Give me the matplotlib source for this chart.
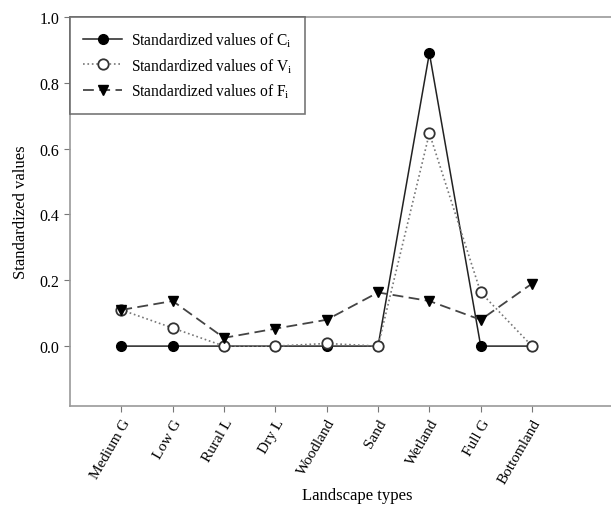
import matplotlib
matplotlib.use('Agg')
import matplotlib.pyplot as plt
import numpy as np

landscapes = ['Medium G', 'Low G', 'Rural L', 'Dry L', 'Woodland',
              'Sand', 'Wetland', 'Full G', 'Bottomland']
c_vals = [0.0, 0.0, 0.0, 0.0, 0.0, 0.0, 0.89, 0.0, 0.0]
v_vals = [0.11, 0.055, 0.0, 0.0, 0.008, 0.0, 0.647, 0.163, 0.0]
f_vals = [0.11, 0.137, 0.025, 0.053, 0.08, 0.163, 0.137, 0.08, 0.19]
y_ticks = [0.0, 0.2, 0.4, 0.6, 0.8, 1.0]

plt.rcParams['font.family'] = ['Liberation Serif']
plt.rcParams['mathtext.fontset'] = 'custom'
plt.rcParams['mathtext.rm'] = 'Liberation Serif'

fig = plt.figure(figsize=(6.11, 5.10), dpi=100)
ax = fig.add_axes([70 / 611, 103 / 510, 575 / 611, 389 / 510])

x = np.arange(len(landscapes))
ax.plot(x, c_vals, '-', color='#222222', lw=1.1, marker='o', ms=7,
        mfc='black', mec='black', label=r'Standardized values of C$_\mathrm{i}$', zorder=3)
ax.plot(x, v_vals, ':', color='#777777', lw=1.2, marker='o', ms=7.5,
        mfc='white', mec='#333333', mew=1.3, label=r'Standardized values of V$_\mathrm{i}$', zorder=4)
ax.plot(x, f_vals, '--', color='#444444', lw=1.3, dashes=(6, 3), marker='v', ms=7.5,
        mfc='black', mec='black', label=r'Standardized values of F$_\mathrm{i}$', zorder=5)

ax.set_xlim(-1, 10.2)
ax.set_ylim(-0.182, 1.0)
ax.set_yticks(y_ticks)
ax.set_yticklabels(['%.1f' % t for t in y_ticks])
ax.set_xticks(x)
ax.set_xticklabels(landscapes, rotation=60, ha='right', rotation_mode='anchor')
ax.tick_params(axis='y', labelsize=11.5, color='#777777', length=4)
ax.tick_params(axis='x', labelsize=11, color='#777777', length=4)
for s in ax.spines.values():
    s.set_color('#999999')
    s.set_linewidth(1.2)

ax.set_ylabel('Standardized values', fontsize=12, labelpad=8)
ax.set_xlabel('Landscape types', fontsize=12, labelpad=1)

leg = ax.legend(loc='upper left', fontsize=11.2, frameon=True, fancybox=False,
                edgecolor='#555555', borderaxespad=0.0, handlelength=2.5,
                handletextpad=0.55, borderpad=0.85, labelspacing=0.45)
leg.get_frame().set_linewidth(1.2)

plt.savefig('out.png', dpi=100)
